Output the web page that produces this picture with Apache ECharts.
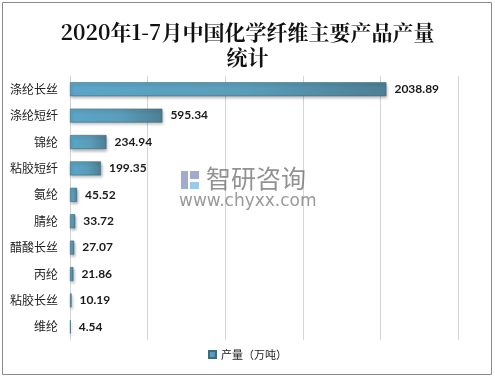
<!DOCTYPE html>
<html><head><meta charset="utf-8">
<script src="https://cdn.jsdelivr.net/npm/echarts@6/dist/echarts.min.js"></script>
<style>html,body{margin:0;padding:0;background:#fff}#c{width:495px;height:379px}</style>
</head><body><div id="c"></div>
<script>
var categories = ['涤纶长丝','涤纶短纤','锦纶','粘胶短纤','氨纶','腈纶','醋酸长丝','丙纶','粘胶长丝','维纶'];
var values = [2038.89, 595.34, 234.94, 199.35, 45.52, 33.72, 27.07, 21.86, 10.19, 4.54];
var seriesName = '产量（万吨）';
var titleText = '2020年1-7月中国化学纤维主要产品产量\n统计';

var chart = echarts.init(document.getElementById('c'));
chart.setOption({
  animation: false,
  title: {
    text: titleText, left: 'center', top: 15,
    textStyle: { fontFamily: 'Noto Serif CJK SC, serif', fontSize: 21, fontWeight: 'bold', color: '#111', lineHeight: 25 }
  },
  graphic: [
    { type: 'rect', shape: { x: 2.5, y: 2.5, width: 489, height: 372 }, style: { fill: 'none', stroke: '#8a8a8a', lineWidth: 1 }, z: 0 },
    { type: 'text', left: 206, top: 166, style: { text: '智研咨询', fontSize: 25, fontFamily: 'Noto Sans CJK SC', fill: 'rgba(110,110,110,0.75)' }, z: 10 },
    { type: 'text', left: 179, top: 193, style: { text: 'www.chyxx.com', fontSize: 17, fontFamily: 'DejaVu Sans', fill: 'rgba(110,110,110,0.7)' }, z: 10 },
    { type: 'rect', shape: { x: 181, y: 171, width: 7, height: 18 }, style: { fill: 'rgba(120,135,185,0.7)' }, z: 10 },
    { type: 'rect', shape: { x: 190, y: 171, width: 9, height: 8 }, style: { fill: 'rgba(120,135,185,0.7)' }, z: 10 },
    { type: 'rect', shape: { x: 190, y: 182, width: 9, height: 7 }, style: { fill: 'rgba(110,180,220,0.7)' }, z: 10 }
  ],
  legend: {
    bottom: 14, left: 'center', itemWidth: 7, itemHeight: 7, itemGap: 4,
    icon: 'rect',
    textStyle: { fontSize: 11, color: '#222', fontFamily: 'Noto Sans CJK SC' },
    data: [seriesName]
  },
  grid: { left: 70, right: 37, top: 76, bottom: 39, containLabel: false },
  xAxis: {
    type: 'value', min: 0, max: 2500, interval: 500,
    axisLabel: { show: false }, axisLine: { show: false }, axisTick: { show: false },
    splitLine: { lineStyle: { color: '#d4d4d4' } }
  },
  yAxis: {
    type: 'category', data: categories, inverse: true,
    axisLine: { show: true, lineStyle: { color: '#d4d4d4' } }, axisTick: { show: false },
    axisLabel: { fontSize: 12, color: '#222', margin: 12, fontFamily: 'Noto Sans CJK SC' }
  },
  series: [{
    name: seriesName, type: 'bar', data: values, barWidth: 14,
    itemStyle: {
      color: new echarts.graphic.LinearGradient(0, 0, 1, 0, [
        { offset: 0, color: '#5aa6c8' }, { offset: 0.55, color: '#5a9dba' }, { offset: 1, color: '#4c7f94' }
      ]),
      borderColor: '#3f6b7d', borderWidth: 0.6,
      shadowColor: 'rgba(0,0,0,0.3)', shadowBlur: 3, shadowOffsetX: 1, shadowOffsetY: 2
    },
    label: { show: true, position: 'right', distance: 8, fontSize: 12, fontWeight: 'bold', color: '#1a1a1a', fontFamily: 'Lato' }
  }]
});
</script></body></html>
